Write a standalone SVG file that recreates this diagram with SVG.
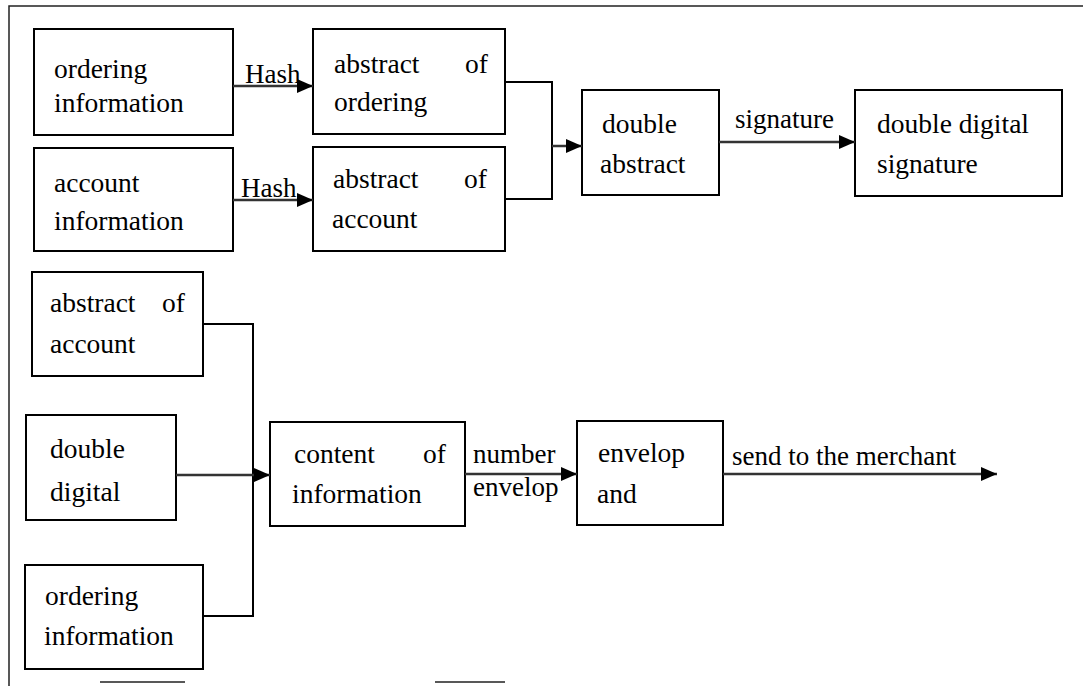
<svg xmlns="http://www.w3.org/2000/svg" width="1083" height="686" viewBox="0 0 1083 686">
<defs>
<style>
.box{fill:#fff;stroke:#000;stroke-width:2}
.t{font-family:"Liberation Serif","Times New Roman",serif;font-size:27.5px;fill:#000}
.lbl{font-family:"Liberation Serif","Times New Roman",serif;font-size:27px;fill:#000}
.arr{fill:none;stroke:#333;stroke-width:2.5}
.ln{fill:none;stroke:#000;stroke-width:2}
.frame{fill:none;stroke:#222;stroke-width:1.5}
</style>
<marker id="ah" markerUnits="userSpaceOnUse" markerWidth="16" markerHeight="14" refX="16" refY="7" orient="auto">
<path d="M0,0 L16,7 L0,14 Z" fill="#000"/>
</marker>
</defs>
<rect width="1083" height="686" fill="#fff"/>
<g id="frame">
<path class="frame" d="M9,686 V6 H1083"/>
<path class="frame" d="M100,682 H185 M435,682 H505"/>
</g>
<g id="n-ordering-info">
<rect class="box" x="34" y="29" width="199" height="106"/>
<text class="t" x="54" y="78">ordering</text>
<text class="t" x="54" y="112">information</text>
</g>
<g id="n-account-info">
<rect class="box" x="34" y="148" width="199" height="103"/>
<text class="t" x="54" y="192">account</text>
<text class="t" x="54" y="230">information</text>
</g>
<g id="n-abstract-ordering">
<rect class="box" x="313" y="29" width="192" height="105"/>
<text class="t" x="334" y="73">abstract</text>
<text class="t" x="465" y="73">of</text>
<text class="t" x="334" y="111">ordering</text>
</g>
<g id="n-abstract-account">
<rect class="box" x="313" y="147" width="192" height="104"/>
<text class="t" x="333" y="188">abstract</text>
<text class="t" x="464" y="188">of</text>
<text class="t" x="332" y="228">account</text>
</g>
<g id="n-double-abstract">
<rect class="box" x="582" y="90" width="137" height="105"/>
<text class="t" x="602" y="133">double</text>
<text class="t" x="600" y="173">abstract</text>
</g>
<g id="n-double-digital-signature">
<rect class="box" x="855" y="90" width="207" height="106"/>
<text class="t" x="877" y="133">double digital</text>
<text class="t" x="877" y="173">signature</text>
</g>
<g id="n-abstract-account-2">
<rect class="box" x="32" y="272" width="171" height="104"/>
<text class="t" x="50" y="312">abstract</text>
<text class="t" x="162" y="312">of</text>
<text class="t" x="50" y="353">account</text>
</g>
<g id="n-double-digital">
<rect class="box" x="26" y="415" width="150" height="105"/>
<text class="t" x="50" y="458">double</text>
<text class="t" x="50" y="501">digital</text>
</g>
<g id="n-ordering-info-2">
<rect class="box" x="25" y="565" width="178" height="104"/>
<text class="t" x="45" y="605">ordering</text>
<text class="t" x="44" y="645">information</text>
</g>
<g id="n-content">
<rect class="box" x="270" y="422" width="195" height="104"/>
<text class="t" x="294" y="463">content</text>
<text class="t" x="423" y="463">of</text>
<text class="t" x="292" y="503">information</text>
</g>
<g id="n-envelop">
<rect class="box" x="577" y="421" width="146" height="104"/>
<text class="t" x="598" y="462">envelop</text>
<text class="t" x="597" y="503">and</text>
</g>
<g id="connectors">
<line class="arr" x1="233" y1="86" x2="313" y2="86" marker-end="url(#ah)"/>
<text class="lbl" x="245" y="83" font-size="23.5">Hash</text>
<line class="arr" x1="233" y1="200" x2="313" y2="200" marker-end="url(#ah)"/>
<text class="lbl" x="241" y="197" font-size="23.5">Hash</text>
<path class="ln" d="M505,82 H552 V199 H505"/>
<line class="arr" x1="552" y1="146" x2="582" y2="146" marker-end="url(#ah)"/>
<line class="arr" x1="719" y1="142" x2="855" y2="142" marker-end="url(#ah)"/>
<text class="lbl" x="735" y="128">signature</text>
<path class="ln" d="M203,324 H253 V616 H203"/>
<line class="arr" x1="176" y1="475" x2="270" y2="475" marker-end="url(#ah)"/>
<line class="arr" x1="465" y1="474" x2="577" y2="474" marker-end="url(#ah)"/>
<text class="lbl" x="473" y="463">number</text>
<text class="lbl" x="473" y="496">envelop</text>
<line class="arr" x1="723" y1="474" x2="997" y2="474" marker-end="url(#ah)"/>
<text class="lbl" x="732" y="465" font-size="28">send to the merchant</text>
</g>
</svg>
